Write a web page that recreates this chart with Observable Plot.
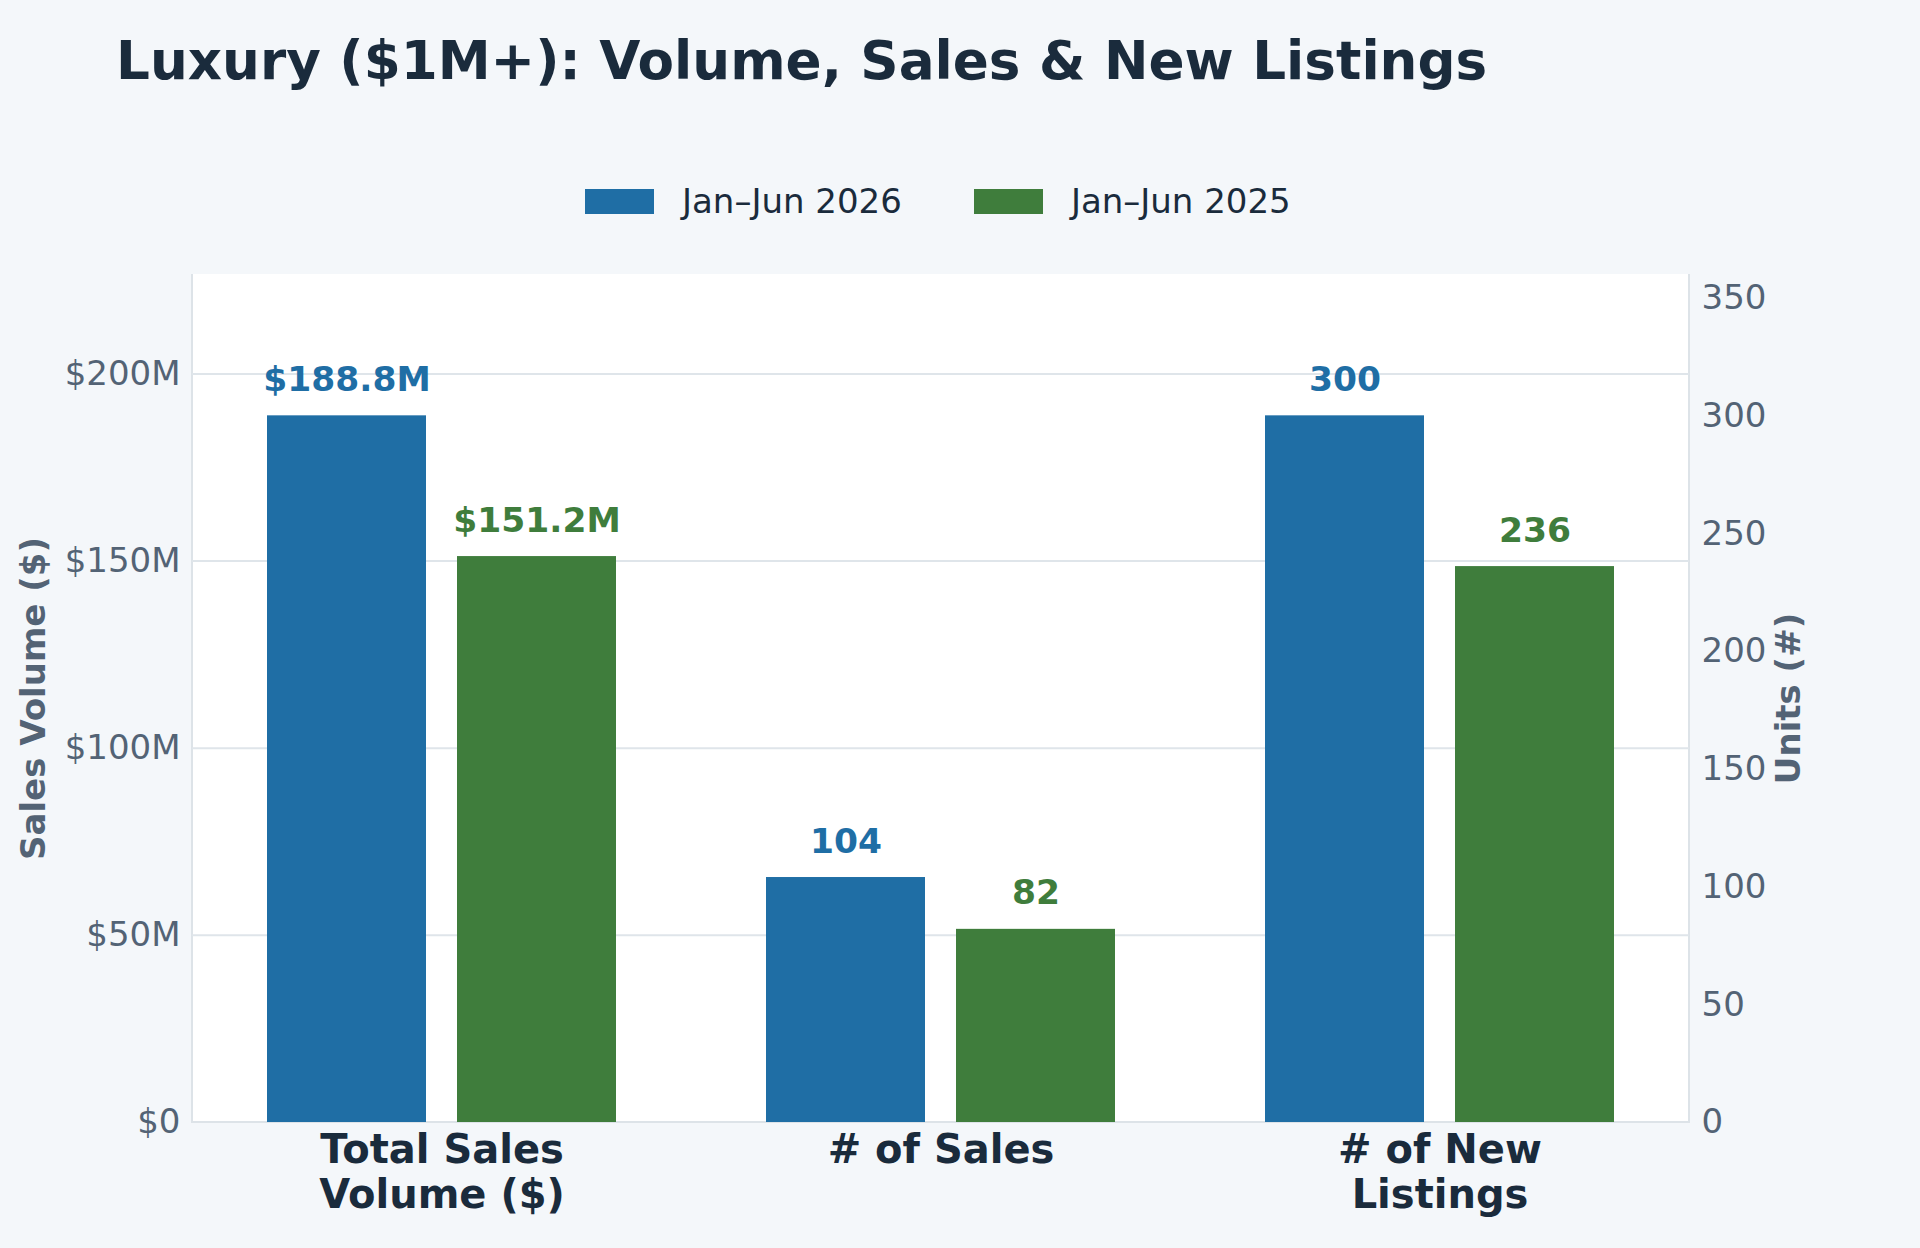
<!DOCTYPE html>
<html><head><meta charset="utf-8">
<script src="https://cdn.jsdelivr.net/npm/d3@7"></script>
<script src="https://cdn.jsdelivr.net/npm/@observablehq/plot@0.6"></script>
<style>
html,body{margin:0;padding:0;background:#f4f7fa;}
body{width:1920px;height:1248px;position:relative;overflow:hidden;font-family:"DejaVu Sans",sans-serif;}
#title{position:absolute;left:116px;top:35px;font-size:53.2px;line-height:53.2px;font-weight:bold;color:#1a2b3c;white-space:nowrap;}
#legend{position:absolute;left:585px;top:181px;}
#panel{position:absolute;background:#fff;box-sizing:border-box;border-left:2px solid #dde3e8;border-right:2px solid #dde3e8;border-bottom:2px solid #dde3e8;}
.layer{position:absolute;left:0;}
.lg-swatch > svg{margin-right:28px !important;}
.lg-swatch{margin-right:72px !important;}
[aria-label="y-axis label"]{font-weight:bold;}
</style>
</head><body>
<div id="title">Luxury ($1M+): Volume, Sales &amp; New Listings</div>
<div id="legend"></div>
<div id="panel"></div>
<div id="l1" class="layer"></div>
<div id="l2" class="layer"></div>
<script>
// ---- data ----
const categories = ["Total Sales Volume ($)", "# of Sales", "# of New Listings"];
const categoryLabels = ["Total Sales\nVolume ($)", "# of Sales", "# of New\nListings"];
const series = ["Jan–Jun 2026", "Jan–Jun 2025"];
const seriesColors = ["#1f6ea5", "#3f7d3c"];
const volumeM = [188.8, 151.2];      // $M, 2026, 2025
const salesCount = [104, 82];        // 2026, 2025
const newListings = [300, 236];      // 2026, 2025
const leftTicks = [0, 50, 100, 150, 200];
const rightTicks = [0, 50, 100, 150, 200, 250, 300, 350];

// ---- layout ----
const W = 1920, H = 998, svgTop = 250;
const mTop = 24, mBottom = 126, mLeft = 192, mRight = 231;
const font = "DejaVu Sans, sans-serif";
const textDark = "#1a2b3c", textGray = "#536375";

const volData = series.map((s, i) => ({cat: categories[0], series: s, value: volumeM[i]}));
const unitData = [
  ...series.map((s, i) => ({cat: categories[1], series: s, value: salesCount[i]})),
  ...series.map((s, i) => ({cat: categories[2], series: s, value: newListings[i]}))
];
const gridData = categories.flatMap(c => leftTicks.filter(v => v > 0).map(v => ({cat: c, v})));

const common = {
  width: W, height: H,
  marginTop: mTop, marginBottom: mBottom, marginLeft: mLeft, marginRight: mRight,
  style: {background: "transparent", fontFamily: font, overflow: "visible"},
  fx: {domain: categories, padding: 0, label: null},
  x: {domain: series, paddingInner: 0.163, paddingOuter: 0.394, axis: null},
  color: {domain: series, range: seriesColors}
};

const panel = document.getElementById("panel");
panel.style.left = (mLeft - 1) + "px";
panel.style.top = (svgTop + mTop) + "px";
panel.style.width = (W - mLeft - mRight + 2) + "px";
panel.style.height = (H - mTop - mBottom + 1) + "px";

const p1 = Plot.plot({
  ...common,
  y: {domain: [0, d3.max(volumeM) * 1.2]},
  marks: [
    Plot.ruleY(gridData, {fx: "cat", y: "v", stroke: "#dfe5ea", strokeWidth: 2}),
    Plot.axisY(leftTicks, {
      anchor: "left", tickSize: 0, tickPadding: 12,
      tickFormat: d => d === 0 ? "$0" : `$${d}M`,
      fontSize: 34, fill: textGray,
      label: "Sales Volume ($)", labelAnchor: "center", labelArrow: "none", labelOffset: 172
    }),
    Plot.axisFx({
      anchor: "bottom", tickSize: 0, tickPadding: 8, label: null,
      tickFormat: d => categoryLabels[categories.indexOf(d)],
      fontSize: 40, fontWeight: "bold", fill: textDark, lineHeight: 1.13
    }),
    Plot.barY(volData, {fx: "cat", x: "series", y: "value", fill: "series"}),
    Plot.text(volData, {
      fx: "cat", x: "series", y: "value", fill: "series",
      text: d => `$${d.value.toFixed(1)}M`,
      lineAnchor: "bottom", dy: -25, fontSize: 34.5, fontWeight: "bold"
    })
  ]
});

const p2 = Plot.plot({
  ...common,
  fx: {...common.fx, axis: null},
  y: {domain: [0, d3.max([...salesCount, ...newListings]) * 1.2]},
  marks: [
    Plot.axisY(rightTicks, {
      anchor: "right", tickSize: 0, tickPadding: 12,
      fontSize: 34, fill: textGray,
      label: "Units (#)", labelAnchor: "center", labelArrow: "none", labelOffset: 110
    }),
    Plot.barY(unitData, {fx: "cat", x: "series", y: "value", fill: "series"}),
    Plot.text(unitData, {
      fx: "cat", x: "series", y: "value", fill: "series",
      text: d => String(d.value),
      lineAnchor: "bottom", dy: -25, fontSize: 34.5, fontWeight: "bold"
    })
  ]
});

for (const [id, p] of [["l1", p1], ["l2", p2]]) {
  const el = document.getElementById(id);
  el.style.top = svgTop + "px";
  el.appendChild(p);
}

const lg = Plot.legend({
  color: {domain: series, range: seriesColors},
  legend: "swatches", swatchWidth: 69, swatchHeight: 25, className: "lg",
  style: {fontSize: "34px", fontFamily: font, color: textDark, background: "transparent"}
});
document.getElementById("legend").appendChild(lg);
</script>
</body></html>
